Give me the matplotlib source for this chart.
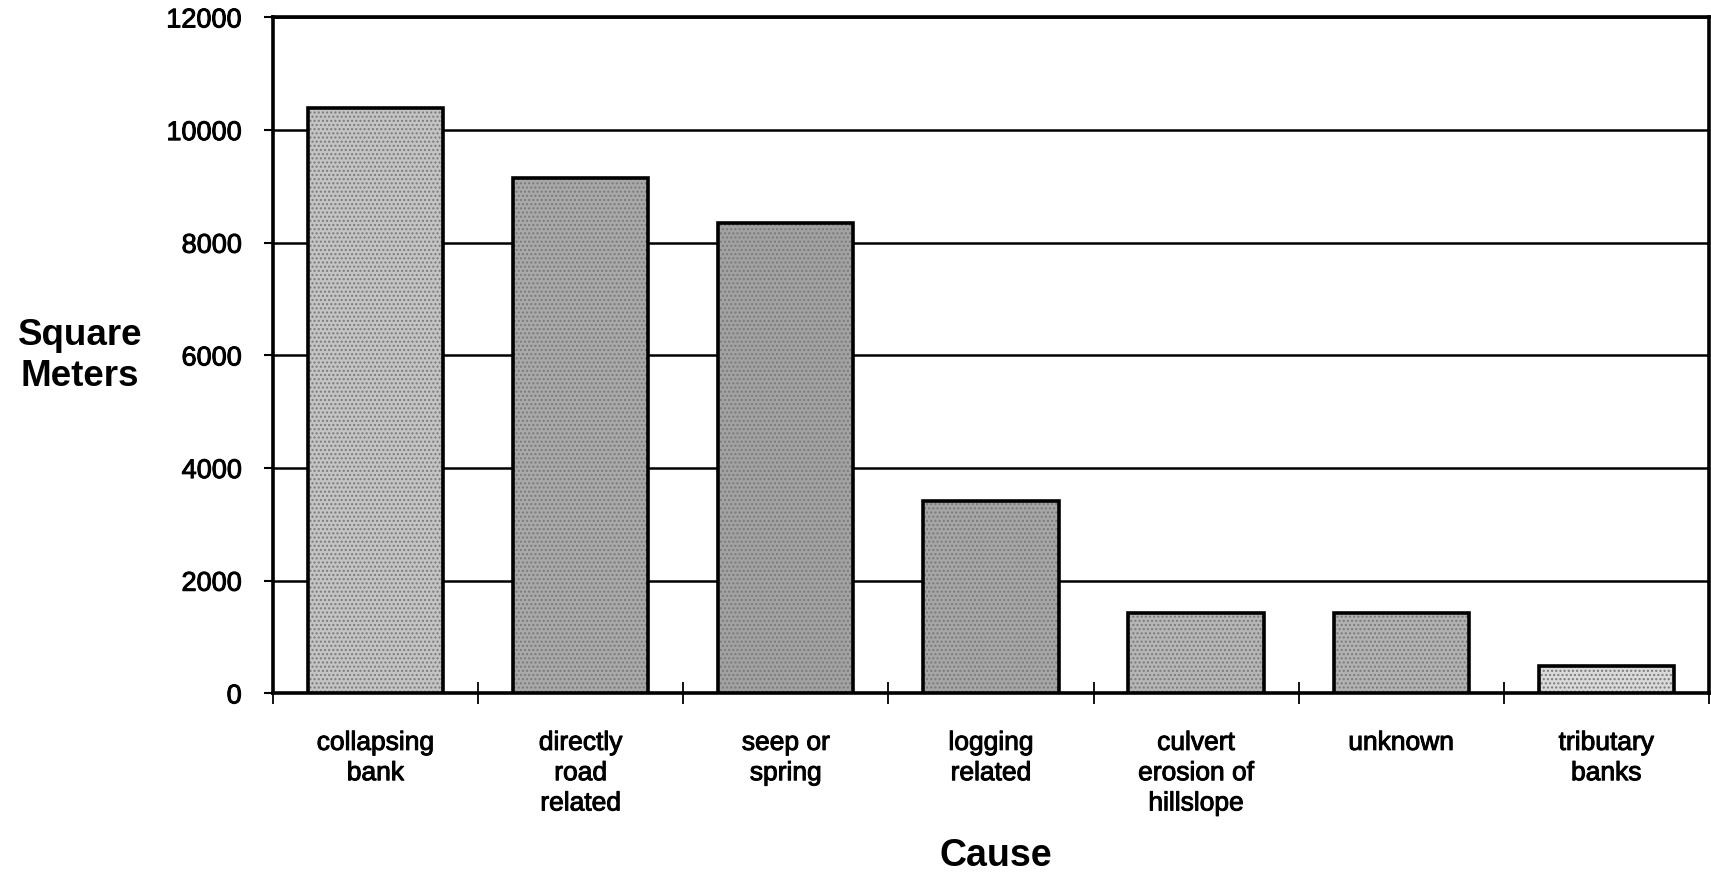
import matplotlib
matplotlib.use("Agg")
import matplotlib.pyplot as plt
import matplotlib.patheffects as pe
import numpy as np

plt.rcParams['font.family'] = ['Liberation Sans', 'DejaVu Sans']
plt.rcParams['hatch.linewidth'] = 1.0

# Area of erosion features by cause
causes = ["collapsing\nbank", "directly\nroad\nrelated", "seep or\nspring",
          "logging\nrelated", "culvert\nerosion of\nhillslope", "unknown",
          "tributary\nbanks"]
area_m2 = [10400, 9150, 8350, 3420, 1430, 1420, 480]
y_ticks = [0, 2000, 4000, 6000, 8000, 10000, 12000]

bar_fill = ["#c4c4c4", "#a9a9a9", "#a2a2a2", "#a6a6a6", "#b6b6b6", "#b2b2b2", "#dadada"]

ink = [pe.withStroke(linewidth=0.7, foreground="black")]

fig = plt.figure(figsize=(17.11, 8.79), dpi=100)
ax = fig.add_axes([0.1595, 0.210, 0.8393, 0.769])

x = np.arange(len(causes))
# stippled fill
ax.bar(x, area_m2, width=0.66, color=bar_fill, hatch="....",
       edgecolor="#7a7a7a", linewidth=0, zorder=3)
# outlines
ax.bar(x, area_m2, width=0.66, fill=False, edgecolor="black",
       linewidth=2.6, zorder=4)

ax.set_xlim(-0.5, len(causes) - 0.5)
ax.set_ylim(0, 12000)
ax.set_yticks(y_ticks)
ax.set_yticklabels([str(v) for v in y_ticks], fontsize=19.5)
ax.yaxis.grid(True, color="black", linewidth=1.8, zorder=1)
ax.set_axisbelow(True)
ax.tick_params(axis="y", direction="out", length=6.5, width=1.5, pad=16)

ax.set_xticks(x)
ax.set_xticklabels(causes, fontsize=19, linespacing=1.33, va="top")
ax.tick_params(axis="x", which="major", length=0, pad=27)
ax.set_xticks(np.arange(len(causes) + 1) - 0.5, minor=True)
ax.tick_params(axis="x", which="minor", direction="inout", length=16, width=1.3)

for lbl in ax.get_xticklabels() + ax.get_yticklabels():
    lbl.set_path_effects(ink)

for s in ax.spines.values():
    s.set_linewidth(2.6)
    s.set_color("black")

fig.text(0.0467, 0.595, "Square\nMeters", ha="center", va="center",
         fontsize=26.5, fontweight="bold", linespacing=1.2)
fig.text(0.582, 0.026, "Cause", ha="center", va="center",
         fontsize=27, fontweight="bold")

fig.savefig("out.png", dpi=100, facecolor="white")
